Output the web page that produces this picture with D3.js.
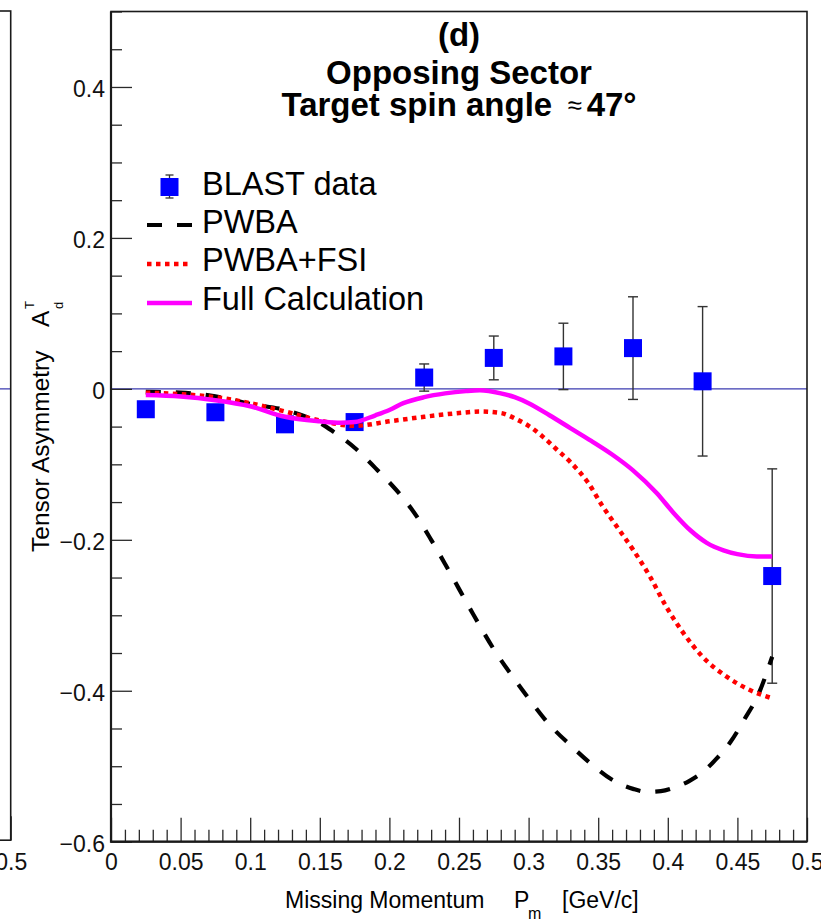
<!DOCTYPE html>
<html>
<head>
<meta charset="utf-8">
<script src="https://cdn.jsdelivr.net/npm/d3@7"></script>
<style>
  html, body { margin: 0; padding: 0; background: #fff; }
  svg { display: block; font-family: "Liberation Sans", Arial, Helvetica, sans-serif; }
</style>
</head>
<body>
<svg id="chart" width="821" height="921"></svg>
<script>
// Missing-momentum bin centres (GeV/c) and the measured tensor asymmetry
const pmBins      = [0.025, 0.075, 0.125, 0.175, 0.225, 0.275, 0.325, 0.375, 0.425, 0.475];
const blastValues = [-0.027, -0.031, -0.047, -0.044, 0.015, 0.041, 0.043, 0.054, 0.010, -0.248];
const blastErrors = [0.008, 0.008, 0.008, 0.008, 0.018, 0.029, 0.044, 0.068, 0.099, 0.142];

// Theory curves, [p_m, A_d^T]
const pwbaCurve = [
  [0.025, -0.004], [0.05, -0.005], [0.075, -0.010], [0.1, -0.020], [0.125, -0.028],
  [0.14, -0.037], [0.15, -0.045], [0.16, -0.057], [0.175, -0.078], [0.19, -0.105],
  [0.2, -0.124], [0.21, -0.145], [0.22, -0.170], [0.23, -0.200], [0.24, -0.232],
  [0.25, -0.265], [0.26, -0.298], [0.275, -0.345], [0.29, -0.385], [0.3, -0.410],
  [0.315, -0.445], [0.33, -0.472], [0.345, -0.497], [0.36, -0.518], [0.375, -0.530],
  [0.385, -0.534], [0.395, -0.533], [0.405, -0.528], [0.415, -0.520], [0.425, -0.508],
  [0.435, -0.490], [0.445, -0.468], [0.455, -0.438], [0.465, -0.405], [0.475, -0.355]
];
const fsiCurve = [
  [0.025, -0.005], [0.05, -0.007], [0.075, -0.011], [0.1, -0.019], [0.125, -0.030],
  [0.15, -0.042], [0.175, -0.049], [0.2, -0.043], [0.225, -0.037], [0.25, -0.032],
  [0.265, -0.030], [0.28, -0.032], [0.292, -0.041], [0.3, -0.049], [0.31, -0.063],
  [0.32, -0.080], [0.33, -0.097], [0.343, -0.125], [0.353, -0.155], [0.364, -0.184],
  [0.375, -0.213], [0.387, -0.248], [0.399, -0.289], [0.411, -0.323], [0.425, -0.355],
  [0.442, -0.381], [0.459, -0.399], [0.475, -0.410]
];
const fullCurve = [
  [0.025, -0.008], [0.05, -0.010], [0.075, -0.015], [0.1, -0.023], [0.125, -0.037],
  [0.15, -0.043], [0.165, -0.045], [0.175, -0.044], [0.19, -0.035], [0.2, -0.028],
  [0.21, -0.019], [0.225, -0.011], [0.24, -0.006], [0.255, -0.003], [0.265, -0.002],
  [0.28, -0.006], [0.29, -0.011], [0.3, -0.019], [0.315, -0.035], [0.33, -0.052],
  [0.345, -0.069], [0.36, -0.087], [0.375, -0.108], [0.392, -0.138], [0.404, -0.164],
  [0.416, -0.187], [0.428, -0.204], [0.44, -0.214], [0.45, -0.219], [0.464, -0.222],
  [0.475, -0.222]
];

// Axis ticks and text
const xTickValues = [0, 0.05, 0.1, 0.15, 0.2, 0.25, 0.3, 0.35, 0.4, 0.45, 0.5];
const yTickValues = [-0.6, -0.4, -0.2, 0, 0.2, 0.4];
const titleLines  = ["(d)", "Opposing Sector", "Target spin angle "];
const angleText   = ["\u2248", "47\u00B0"];
const legendLabels = ["BLAST data", "PWBA", "PWBA+FSI", "Full Calculation"];

const COLORS = { data: "#0000ff", pwba: "#000000", fsi: "#ff0000", full: "#ff00ff", zero: "#3b3bb0", axis: "#1a1a1a" };

const svg = d3.select("#chart");
svg.append("rect").attr("width", 821).attr("height", 921).attr("fill", "#fff");

const frame = { left: 111, right: 807, top: 11.5, bottom: 841.7 };
const x = d3.scaleLinear().domain([0, 0.5]).range([frame.left, frame.right]);
const y = d3.scaleLinear().domain([-0.6, 0.5]).range([frame.bottom, frame.top]);
const fmt = d3.format("~g");

const xMinor = d3.range(0, 51).map(i => i / 100).filter(v => Math.round(v * 100) % 5 !== 0);
const yMinor = d3.range(-12, 11).map(i => i / 20).filter(v => Math.round(v * 20) % 4 !== 0);

function styleAxis(g, fontSize) {
  g.select(".domain").remove();
  g.selectAll(".tick line").attr("stroke", "#2a2a2a").attr("stroke-width", 1.3);
  g.selectAll(".tick text").attr("fill", "#111").attr("font-size", fontSize).attr("font-family", null);
}

// ---- neighbouring panel (only its right edge shows at the page border) ----
const panelWidth = frame.right - frame.left;
const xPrev = d3.scaleLinear().domain([0, 0.5]).range([10.7 - panelWidth, 10.7]);
svg.append("line")
  .attr("x1", xPrev(0)).attr("x2", xPrev(0.5)).attr("y1", y(0)).attr("y2", y(0))
  .attr("stroke", COLORS.zero).attr("stroke-width", 1.2);
const gPrev = svg.append("g").attr("transform", `translate(0,${frame.bottom - 1.5})`)
  .call(d3.axisBottom(xPrev).tickValues([0.5]).tickSize(-24).tickPadding(13.5).tickFormat(fmt));
styleAxis(gPrev, 23);
svg.append("rect")
  .attr("x", xPrev(0)).attr("y", frame.top - 0.5)
  .attr("width", xPrev(0.5) - xPrev(0)).attr("height", frame.bottom - 1.5 - frame.top + 0.5)
  .attr("fill", "none").attr("stroke", COLORS.axis).attr("stroke-width", 1.6);

// ---- main panel ----
svg.append("line")
  .attr("x1", x(0)).attr("x2", x(0.5)).attr("y1", y(0)).attr("y2", y(0))
  .attr("stroke", COLORS.zero).attr("stroke-width", 1.2);

const gxMinor = svg.append("g").attr("transform", `translate(0,${frame.bottom})`)
  .call(d3.axisBottom(x).tickValues(xMinor).tickSize(-12).tickFormat(""));
styleAxis(gxMinor, 23);
const gx = svg.append("g").attr("transform", `translate(0,${frame.bottom})`)
  .call(d3.axisBottom(x).tickValues(xTickValues).tickSize(-24).tickPadding(12).tickFormat(fmt));
styleAxis(gx, 23);

const gyMinor = svg.append("g").attr("transform", `translate(${frame.left},0)`)
  .call(d3.axisLeft(y).tickValues(yMinor).tickSize(-11).tickFormat(""));
styleAxis(gyMinor, 23);
const gy = svg.append("g").attr("transform", `translate(${frame.left},0)`)
  .call(d3.axisLeft(y).tickValues(yTickValues).tickSize(-21).tickPadding(6).tickFormat(fmt));
styleAxis(gy, 23);
gy.selectAll(".tick text").attr("dy", "0.42em");

// data points with error bars
const pts = pmBins.map((p, i) => ({ p, v: blastValues[i], e: blastErrors[i] }));
const gData = svg.append("g");
const capHalf = 5;
gData.selectAll("line.err").data(pts).join("line").attr("class", "err")
  .attr("x1", d => x(d.p)).attr("x2", d => x(d.p))
  .attr("y1", d => y(d.v - d.e)).attr("y2", d => y(d.v + d.e))
  .attr("stroke", "#333").attr("stroke-width", 1.4);
gData.selectAll("line.capTop").data(pts).join("line").attr("class", "capTop")
  .attr("x1", d => x(d.p) - capHalf).attr("x2", d => x(d.p) + capHalf)
  .attr("y1", d => y(d.v + d.e)).attr("y2", d => y(d.v + d.e))
  .attr("stroke", "#333").attr("stroke-width", 1.4);
gData.selectAll("line.capBot").data(pts).join("line").attr("class", "capBot")
  .attr("x1", d => x(d.p) - capHalf).attr("x2", d => x(d.p) + capHalf)
  .attr("y1", d => y(d.v - d.e)).attr("y2", d => y(d.v - d.e))
  .attr("stroke", "#333").attr("stroke-width", 1.4);
const markerSize = 18;
gData.selectAll("rect.pt").data(pts).join("rect").attr("class", "pt")
  .attr("x", d => x(d.p) - markerSize / 2).attr("y", d => y(d.v) - markerSize / 2)
  .attr("width", markerSize).attr("height", markerSize)
  .attr("fill", COLORS.data);

// theory curves
const line = d3.line().x(d => x(d[0])).y(d => y(d[1])).curve(d3.curveMonotoneX);
svg.append("path").datum(pwbaCurve).attr("d", line)
  .attr("fill", "none").attr("stroke", COLORS.pwba).attr("stroke-width", 4.2)
  .attr("stroke-dasharray", "15,15");
svg.append("path").datum(fsiCurve).attr("d", line)
  .attr("fill", "none").attr("stroke", COLORS.fsi).attr("stroke-width", 4.5)
  .attr("stroke-dasharray", "4.5,4.5");
svg.append("path").datum(fullCurve).attr("d", line)
  .attr("fill", "none").attr("stroke", COLORS.full).attr("stroke-width", 4.5);

// frame
svg.append("rect")
  .attr("x", frame.left).attr("y", frame.top)
  .attr("width", frame.right - frame.left).attr("height", frame.bottom - frame.top)
  .attr("fill", "none").attr("stroke", COLORS.axis).attr("stroke-width", 1.6);
svg.append("path")
  .attr("d", `M${frame.left},${frame.top}V${frame.bottom}H${frame.right}`)
  .attr("fill", "none").attr("stroke", COLORS.axis).attr("stroke-width", 2.2);

// title block
const cx = (frame.left + frame.right) / 2;
const titleBase = [46, 84, 116];
titleLines.forEach((t, i) => {
  const txt = svg.append("text").attr("x", cx).attr("y", titleBase[i])
    .attr("text-anchor", "middle").attr("font-weight", "bold").attr("font-size", 33).attr("fill", "#000");
  txt.append("tspan").text(t);
  if (i === 2) {
    txt.append("tspan").attr("dx", 6).attr("font-weight", "normal").attr("font-size", 26).attr("dy", -2).text(angleText[0]);
    txt.append("tspan").attr("dx", 5).attr("dy", 2).text(angleText[1]);
  }
});

// legend
const legBase = [195, 233, 271, 310];
const legMid = [187, 225, 264, 303];
const legX0 = 147, legX1 = 192, legText = 202;
const legScale = d3.scaleLinear().domain([0, 1]).range([legX0, legX1]);
svg.append("line").attr("x1", legScale(0.5)).attr("x2", legScale(0.5))
  .attr("y1", legMid[0] - 12).attr("y2", legMid[0] + 11).attr("stroke", "#333").attr("stroke-width", 1.3);
[legMid[0] - 12, legMid[0] + 11].forEach(yy => svg.append("line")
  .attr("x1", legScale(0.5) - 4).attr("x2", legScale(0.5) + 4).attr("y1", yy).attr("y2", yy)
  .attr("stroke", "#333").attr("stroke-width", 1.3));
svg.append("rect").attr("x", legScale(0.5) - 9).attr("y", legMid[0] - 9)
  .attr("width", 18).attr("height", 18).attr("fill", COLORS.data);
svg.append("line").attr("x1", legX0).attr("x2", legX1).attr("y1", legMid[1]).attr("y2", legMid[1])
  .attr("stroke", COLORS.pwba).attr("stroke-width", 4.2).attr("stroke-dasharray", "15,15");
svg.append("line").attr("x1", legX0).attr("x2", legX1).attr("y1", legMid[2]).attr("y2", legMid[2])
  .attr("stroke", COLORS.fsi).attr("stroke-width", 4.5).attr("stroke-dasharray", "4.5,4.5");
svg.append("line").attr("x1", legX0).attr("x2", legX1).attr("y1", legMid[3]).attr("y2", legMid[3])
  .attr("stroke", COLORS.full).attr("stroke-width", 4.5);
legendLabels.forEach((t, i) => svg.append("text").attr("x", legText).attr("y", legBase[i])
  .attr("font-size", 32.5).attr("fill", "#000").text(t));

// x axis title
const xt = svg.append("text").attr("y", 908).attr("font-size", 23).attr("fill", "#000");
xt.append("tspan").attr("x", 285).text("Missing Momentum");
xt.append("tspan").attr("x", 514).text("P");
xt.append("tspan").attr("x", 528).attr("dy", 11).attr("font-size", 16).text("m");
xt.append("tspan").attr("x", 562).attr("dy", -11).text("[GeV/c]");

// y axis title (rotated)
const yt = svg.append("text").attr("transform", "translate(49,552) rotate(-90)")
  .attr("font-size", 24.5).attr("fill", "#000");
yt.append("tspan").attr("x", 0).text("Tensor Asymmetry");
yt.append("tspan").attr("x", 225).text("A");
yt.append("tspan").attr("x", 243).attr("dy", -15).attr("font-size", 13).text("T");
yt.append("tspan").attr("x", 243).attr("dy", 29).attr("font-size", 13).text("d");
</script>
</body>
</html>
